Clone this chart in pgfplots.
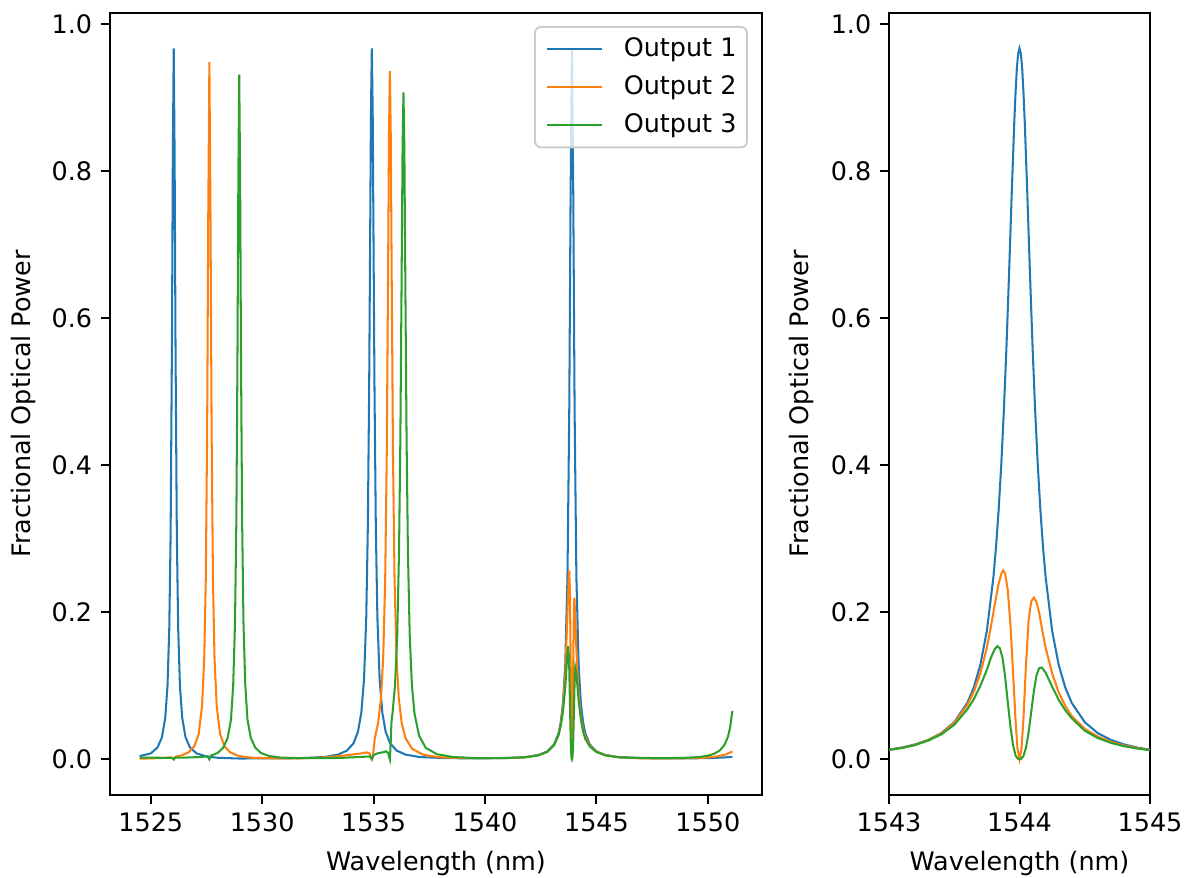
\documentclass[border=0pt]{standalone}
\usepackage{fontspec}
\setmainfont{DejaVu Sans}
\usepackage{pgfplots}
\pgfplotsset{compat=1.18}
\definecolor{c0}{HTML}{1F77B4}
\definecolor{c1}{HTML}{FF7F0E}
\definecolor{c2}{HTML}{2CA02C}
\pgfplotsset{
  mpl/.style={
    scale only axis, height=325.96pt,
    axis line style={line width=0.85pt},
    tick align=outside, tick pos=left,
    major tick length=3.7pt,
    every tick/.style={black, line width=0.85pt},
    ymin=-0.0484, ymax=1.0154,
    ytick={0,0.2,0.4,0.6,0.8,1},
    scaled ticks=false,
    /pgf/number format/assume math mode=true,
    yticklabel style={/pgf/number format/.cd, fixed, fixed zerofill, precision=1},
    xticklabel style={/pgf/number format/.cd, fixed, 1000 sep={}},
    xlabel={Wavelength (nm)}, ylabel={Fractional Optical Power},
    every axis x label/.style={at={(axis description cs:0.5,-0.0876)}, anchor=center},
    every axis plot/.append style={line width=0.85pt},
  }
}
\begin{document}
\fontsize{10.6}{12.7}\selectfont
\begin{tikzpicture}
\path[use as bounding box] (0,0) rectangle (495pt,365.83pt);
% full range
\begin{axis}[mpl, at={(45.83pt,34.58pt)}, anchor=south west, width=271.67pt,
  xmin=1523.17, xmax=1552.43, xtick={1525,1530,1535,1540,1545,1550},
  every axis y label/.style={at={(axis description cs:-0.132,0.5)}, rotate=90, anchor=center},
  legend style={at={(0.9785,0.983)}, anchor=north east, draw=black!20, line width=0.8pt,
    rounded corners=2.5pt, fill=white, fill opacity=0.8, text opacity=1,
    inner xsep=4.4pt, inner ysep=4.5pt, row sep=6.4pt, column sep=8.75pt,
    nodes={inner sep=0pt}},
  legend cell align=left,
  legend image code/.code={\draw[#1] (0pt,0pt) -- (23pt,0pt);}]
\addplot[c0] coordinates {
(1524.50,0.0045) (1525.00,0.0081) (1525.30,0.0161) (1525.50,0.0300) (1525.65,0.0567)
(1525.75,0.0996) (1525.83,0.178) (1525.89,0.304) (1525.95,0.564) (1525.99,0.821)
(1526.03,0.967) (1526.07,0.821) (1526.11,0.564) (1526.17,0.304) (1526.23,0.178)
(1526.31,0.0996) (1526.41,0.0567) (1526.56,0.0300) (1526.76,0.0161) (1527.06,0.0081)
(1527.50,0.0040) (1528.00,0.0022) (1529.00,0.0012) (1530.00,0.0014) (1531.00,0.0014)
(1532.00,0.0020) (1532.80,0.0033) (1533.40,0.0065) (1533.80,0.0119) (1534.10,0.0219)
(1534.30,0.0378) (1534.45,0.0638) (1534.57,0.109) (1534.67,0.193) (1534.74,0.314)
(1534.80,0.503) (1534.84,0.686) (1534.88,0.877) (1534.92,0.967) (1534.96,0.877)
(1535.00,0.686) (1535.04,0.503) (1535.10,0.314) (1535.17,0.193) (1535.27,0.109)
(1535.39,0.0638) (1535.54,0.0378) (1535.74,0.0219) (1536.04,0.0119) (1536.44,0.0065)
(1537.04,0.0033) (1538.00,0.0020) (1539.00,0.0015) (1540.00,0.0015) (1541.00,0.0019)
(1541.80,0.0030) (1542.40,0.0059) (1542.80,0.0110) (1543.10,0.0204) (1543.30,0.0357)
(1543.40,0.0506) (1543.50,0.0769) (1543.60,0.1287) (1543.70,0.248) (1543.78,0.474)
(1543.84,0.768) (1543.90,0.967) (1543.96,0.768) (1544.02,0.474) (1544.10,0.248)
(1544.20,0.1287) (1544.30,0.0769) (1544.40,0.0506) (1544.50,0.0357) (1544.70,0.0204)
(1545.00,0.0110) (1545.40,0.0059) (1546.00,0.0030) (1547.00,0.0018) (1548.00,0.0013)
(1549.00,0.0013) (1550.00,0.0018) (1550.60,0.0024) (1551.10,0.0035)
};
\addlegendentry{Output 1}
\addplot[c1] coordinates {
(1524.50,0.0009) (1525.50,0.0019) (1525.90,0.0028) (1526.00,0.0012) (1526.03,0.0002)
(1526.10,0.0036) (1526.40,0.0056) (1526.70,0.0097) (1526.95,0.0178) (1527.15,0.0344)
(1527.30,0.0724) (1527.40,0.138) (1527.47,0.247) (1527.53,0.449) (1527.58,0.742)
(1527.63,0.948) (1527.68,0.742) (1527.73,0.449) (1527.79,0.247) (1527.86,0.138)
(1527.96,0.0724) (1528.11,0.0344) (1528.31,0.0178) (1528.56,0.0097) (1528.86,0.0056)
(1529.16,0.0036) (1529.60,0.0022) (1530.50,0.0015) (1531.50,0.0014) (1532.50,0.0022)
(1533.30,0.0040) (1533.90,0.0060) (1534.40,0.0080) (1534.70,0.0095) (1534.82,0.0080)
(1534.88,0.0030) (1534.92,0.0000) (1534.97,0.0040) (1535.05,0.0280) (1535.20,0.0493)
(1535.33,0.0831) (1535.43,0.138) (1535.52,0.244) (1535.59,0.415) (1535.65,0.664)
(1535.69,0.849) (1535.73,0.936) (1535.77,0.849) (1535.81,0.664) (1535.87,0.415)
(1535.94,0.244) (1536.03,0.138) (1536.13,0.0831) (1536.26,0.0493) (1536.43,0.0290)
(1536.73,0.0144) (1537.23,0.0064) (1537.93,0.0030) (1539.00,0.0016) (1540.00,0.0016)
(1541.00,0.0017) (1541.80,0.0029) (1542.40,0.0056) (1542.80,0.0104) (1543.10,0.0195)
(1543.30,0.0340) (1543.40,0.0480) (1543.50,0.0720) (1543.60,0.115) (1543.70,0.200)
(1543.76,0.253) (1543.78,0.257) (1543.81,0.228) (1543.85,0.115) (1543.88,0.030)
(1543.90,0.000) (1543.92,0.030) (1543.95,0.110) (1543.99,0.210) (1544.01,0.220)
(1544.05,0.195) (1544.10,0.148) (1544.20,0.090) (1544.30,0.058) (1544.40,0.041)
(1544.50,0.031) (1544.70,0.019) (1545.00,0.0105) (1545.40,0.0057) (1546.00,0.0029)
(1547.00,0.0014) (1548.00,0.0015) (1549.00,0.0016) (1549.80,0.0022) (1550.40,0.0040)
(1550.80,0.0066) (1551.10,0.0108)
};
\addlegendentry{Output 2}
\addplot[c2] coordinates {
(1524.50,0.0025) (1525.50,0.0022) (1525.95,0.0022) (1526.03,0.0000) (1526.10,0.0025)
(1526.60,0.0025) (1527.20,0.0032) (1527.55,0.0041) (1527.63,0.0000) (1527.70,0.0051)
(1528.00,0.0088) (1528.25,0.0159) (1528.45,0.0291) (1528.60,0.0541) (1528.70,0.102)
(1528.78,0.186) (1528.84,0.323) (1528.89,0.544) (1528.93,0.790) (1528.97,0.931)
(1529.01,0.790) (1529.05,0.544) (1529.10,0.323) (1529.16,0.186) (1529.24,0.102)
(1529.34,0.0541) (1529.49,0.0291) (1529.69,0.0159) (1529.94,0.0088) (1530.30,0.0047)
(1530.80,0.0025) (1531.60,0.0018) (1532.50,0.0016) (1533.50,0.0020) (1534.50,0.0035)
(1534.85,0.0040) (1534.92,0.0005) (1535.00,0.0060) (1535.20,0.0085) (1535.40,0.0095)
(1535.55,0.0110) (1535.65,0.0090) (1535.70,0.0030) (1535.73,0.0000) (1535.77,0.0250)
(1535.80,0.0500) (1535.85,0.0634) (1535.96,0.1005) (1536.06,0.169) (1536.14,0.282)
(1536.20,0.434) (1536.25,0.626) (1536.30,0.833) (1536.34,0.907) (1536.38,0.833)
(1536.43,0.626) (1536.48,0.434) (1536.54,0.282) (1536.62,0.169) (1536.72,0.1005)
(1536.83,0.0634) (1537.04,0.0322) (1537.34,0.0157) (1537.84,0.0071) (1538.54,0.0033)
(1539.50,0.0019) (1540.50,0.0017) (1541.30,0.0023) (1541.80,0.0029) (1542.40,0.0056)
(1542.80,0.0104) (1543.10,0.0195) (1543.30,0.033) (1543.40,0.046) (1543.50,0.066)
(1543.60,0.098) (1543.68,0.136) (1543.73,0.154) (1543.77,0.138) (1543.81,0.078)
(1543.85,0.020) (1543.88,0.002) (1543.90,0.000) (1543.92,0.002) (1543.95,0.015)
(1543.99,0.066) (1544.03,0.117) (1544.05,0.125) (1544.10,0.117) (1544.20,0.080)
(1544.30,0.055) (1544.40,0.038) (1544.50,0.028) (1544.70,0.0175) (1545.00,0.0100)
(1545.40,0.0055) (1546.00,0.0029) (1547.00,0.0020) (1548.00,0.0017) (1549.00,0.0022)
(1549.60,0.0032) (1550.00,0.0051) (1550.30,0.0079) (1550.55,0.0125) (1550.75,0.0199)
(1550.90,0.0307) (1551.00,0.0435) (1551.10,0.066)
};
\addlegendentry{Output 3}
\end{axis}
% zoom on the 1544 nm resonance
\begin{axis}[mpl, at={(370.42pt,34.58pt)}, anchor=south west, width=108.75pt,
  xmin=1543, xmax=1545, xtick={1543,1544,1545},
  every axis y label/.style={at={(axis description cs:-0.337,0.5)}, rotate=90, anchor=center}]
\addplot[c0] coordinates {
(1543.00,0.0132) (1543.10,0.0162) (1543.20,0.0204) (1543.30,0.0265) (1543.40,0.0357)
(1543.50,0.0506) (1543.60,0.0769) (1543.65,0.0980) (1543.70,0.1287) (1543.75,0.175)
(1543.80,0.248) (1543.82,0.289) (1543.84,0.339) (1543.86,0.400) (1543.88,0.474)
(1543.90,0.561) (1543.92,0.661) (1543.94,0.768) (1543.96,0.867) (1543.97,0.908)
(1543.98,0.941) (1543.99,0.960) (1544.00,0.967) (1544.01,0.960) (1544.02,0.941)
(1544.03,0.908) (1544.04,0.867) (1544.06,0.768) (1544.08,0.661) (1544.10,0.561)
(1544.12,0.474) (1544.14,0.400) (1544.16,0.339) (1544.18,0.289) (1544.20,0.248)
(1544.25,0.175) (1544.30,0.1287) (1544.35,0.0980) (1544.40,0.0769) (1544.50,0.0506)
(1544.60,0.0357) (1544.70,0.0265) (1544.80,0.0204) (1544.90,0.0162) (1545.00,0.0132)
};
\addplot[c1] coordinates {
(1543.00,0.0130) (1543.10,0.0158) (1543.20,0.0200) (1543.30,0.0262) (1543.40,0.0352)
(1543.50,0.0495) (1543.60,0.0740) (1543.65,0.0920) (1543.70,0.1170) (1543.75,0.1520)
(1543.78,0.1800) (1543.80,0.2000) (1543.82,0.2200) (1543.84,0.2390) (1543.86,0.2520)
(1543.875,0.2570) (1543.89,0.2530) (1543.91,0.2300) (1543.93,0.1850) (1543.95,0.1200)
(1543.97,0.0520) (1543.985,0.0140) (1544.00,0.0000) (1544.015,0.0140) (1544.03,0.0550)
(1544.05,0.1300) (1544.07,0.1900) (1544.09,0.2150) (1544.11,0.2200) (1544.13,0.2140)
(1544.15,0.2000) (1544.18,0.1700) (1544.20,0.1520) (1544.25,0.1170) (1544.30,0.0910)
(1544.35,0.0730) (1544.40,0.0590) (1544.50,0.0415) (1544.60,0.0310) (1544.70,0.0240)
(1544.80,0.0190) (1544.90,0.0155) (1545.00,0.0128)
};
\addplot[c2] coordinates {
(1543.00,0.0128) (1543.10,0.0155) (1543.20,0.0195) (1543.30,0.0255) (1543.40,0.0340)
(1543.50,0.0470) (1543.60,0.0680) (1543.65,0.0820) (1543.70,0.1000) (1543.75,0.1220)
(1543.78,0.1380) (1543.81,0.1500) (1543.83,0.1540) (1543.85,0.1510) (1543.87,0.1380)
(1543.89,0.1120) (1543.91,0.0780) (1543.93,0.0450) (1543.95,0.0200) (1543.97,0.0050)
(1543.99,0.0005) (1544.00,0.0000) (1544.01,0.0005) (1544.03,0.0045) (1544.05,0.0160)
(1544.07,0.0370) (1544.09,0.0650) (1544.11,0.0930) (1544.13,0.1140) (1544.15,0.1240)
(1544.17,0.1250) (1544.20,0.1180) (1544.25,0.0990) (1544.30,0.0810) (1544.35,0.0670)
(1544.40,0.0560) (1544.50,0.0390) (1544.60,0.0290) (1544.70,0.0225) (1544.80,0.0180)
(1544.90,0.0148) (1545.00,0.0125)
};
\end{axis}
\end{tikzpicture}
\end{document}
